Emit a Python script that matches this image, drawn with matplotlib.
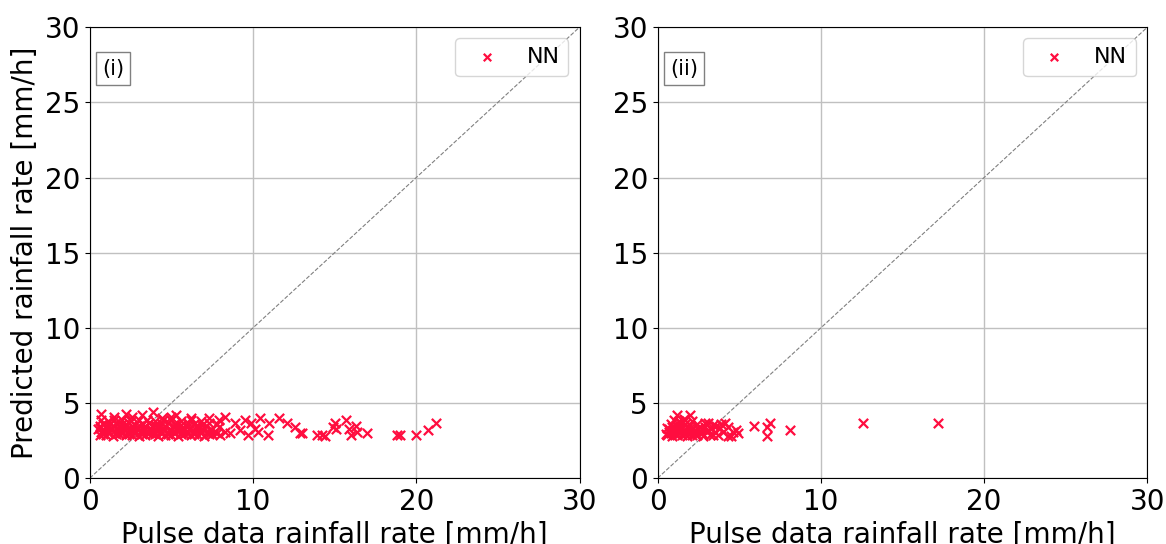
import matplotlib
matplotlib.use("Agg")
import matplotlib.pyplot as plt

# Panel (i): pulse data rate vs predicted rate
x1 = [0.6, 1.0, 1.4, 1.8, 2.2, 2.6, 3.0, 3.4, 3.8, 4.2, 4.6, 5.0, 5.4, 5.8, 6.2, 6.6, 7.0, 7.5, 8.0,
      0.8, 1.2, 1.6, 2.0, 2.4, 2.8, 3.2, 3.6, 4.0, 4.4, 4.8, 5.2, 5.6, 6.0, 6.4, 6.8, 7.3, 7.8,
      0.7, 1.1, 1.5, 1.9, 2.3, 2.7, 3.1, 3.5, 3.9, 4.3, 4.7, 5.1, 5.5, 5.9, 6.3, 6.8, 7.2, 7.7, 8.3,
      0.5, 0.9, 1.3, 1.7, 2.1, 2.5, 2.9, 3.3, 3.7, 4.1, 4.5, 4.9, 5.3, 5.7, 6.1, 6.5, 6.9, 7.4,
      0.6, 1.0, 1.3, 1.7, 2.1, 2.5, 2.9, 3.3, 3.7, 4.1, 4.5, 4.9, 5.3, 5.7, 6.1, 6.5, 7.0, 7.4, 7.9,
      0.8, 1.2, 1.6, 2.0, 2.4, 2.8, 3.2, 3.6, 4.0, 4.4, 4.8, 5.2, 5.6, 6.0, 6.4, 6.9, 7.3, 7.8,
      0.6, 1.0, 1.4, 1.8, 2.2, 2.6, 3.0, 3.4, 3.8, 4.2, 4.6, 5.1, 5.5, 6.0, 6.6, 7.1,
      0.7, 1.1, 1.5, 2.0, 2.5, 3.0, 3.5, 4.0, 4.5, 5.0, 5.6, 6.2, 6.8,
      0.7, 1.5, 2.2, 2.6, 3.2, 3.9, 4.4, 5.0, 5.3, 6.2, 7.3, 7.9,
      8.3, 8.9, 9.5, 9.9, 10.4, 11.0, 11.6, 12.1, 12.6, 12.9, 8.6, 9.7, 10.3, 10.9, 10.1, 9.2,
      13.0, 13.9, 14.2, 14.4, 15.0, 15.1, 15.7, 15.9, 16.0, 16.3, 16.4, 17.0, 18.8, 19.0, 20.0,
      20.7, 21.2, 14.9]
y1 = [2.85, 2.90, 2.80, 2.95, 2.85, 2.90, 2.80, 2.85, 2.95, 2.80, 2.90, 2.85, 2.80, 2.95, 2.85, 2.90, 2.80, 2.95, 2.85,
      2.95, 3.00, 2.95, 3.00, 2.95, 3.00, 2.95, 3.00, 2.95, 3.00, 2.95, 3.00, 2.95, 3.00, 2.95, 3.00, 2.95, 3.00,
      3.10, 3.05, 3.15, 3.10, 3.00, 3.20, 3.10, 3.05, 3.15, 3.10, 3.00, 3.10, 3.20, 3.05, 3.10, 3.15, 3.00, 3.10, 3.05,
      3.25, 3.20, 3.25, 3.20, 3.25, 3.20, 3.25, 3.20, 3.25, 3.20, 3.25, 3.20, 3.25, 3.20, 3.25, 3.20, 3.25, 3.20,
      3.35, 3.40, 3.30, 3.35, 3.45, 3.30, 3.40, 3.35, 3.30, 3.40, 3.35, 3.30, 3.45, 3.35, 3.30, 3.40, 3.35, 3.30, 3.40,
      3.60, 3.55, 3.65, 3.60, 3.70, 3.55, 3.60, 3.65, 3.55, 3.60, 3.70, 3.60, 3.55, 3.65, 3.60, 3.55, 3.65, 3.60,
      3.50, 3.45, 3.50, 3.45, 3.50, 3.45, 3.50, 3.45, 3.50, 3.45, 3.50, 3.45, 3.50, 3.45, 3.50, 3.45,
      3.85, 3.80, 3.90, 3.85, 3.80, 3.90, 3.85, 3.80, 3.90, 3.85, 3.80, 3.85, 3.80,
      4.30, 4.10, 4.30, 4.10, 4.20, 4.40, 4.00, 4.10, 4.20, 4.00, 4.00, 3.90,
      4.10, 3.70, 3.90, 3.70, 4.00, 3.70, 4.00, 3.70, 3.40, 3.00, 3.00, 2.90, 3.10, 2.90, 3.30, 3.20,
      3.00, 2.90, 2.90, 2.80, 3.70, 3.30, 3.90, 3.30, 2.90, 3.50, 3.10, 3.00, 2.90, 2.90, 2.90,
      3.20, 3.70, 3.40]

# Panel (ii)
x2 = [0.6, 0.9, 1.2, 1.5, 1.8, 2.1, 2.4, 2.8, 3.2, 3.7, 4.3,
      0.7, 1.0, 1.3, 1.6, 1.9, 2.2, 2.6, 3.0, 3.5, 4.0, 4.6,
      0.6, 0.9, 1.2, 1.5, 1.8, 2.1, 2.5, 2.9, 3.3, 3.8, 4.3,
      0.8, 1.1, 1.4, 1.7, 2.0, 2.4, 2.9, 3.4, 3.9,
      0.5, 0.8, 1.1, 1.4, 1.7, 2.0, 2.3, 2.7,
      0.7, 1.0, 1.3, 1.6, 1.9, 2.3, 2.7, 3.1,
      1.0, 1.3, 1.7, 2.1, 1.6,
      1.2, 2.0, 4.8, 4.9, 4.5, 3.4, 3.6, 4.1, 3.1,
      5.9, 6.9, 6.7, 6.7, 8.1, 12.6, 17.2]
y2 = [2.85, 2.80, 2.90, 2.85, 2.80, 2.90, 2.85, 2.80, 2.90, 2.85, 2.80,
      3.10, 3.05, 3.15, 3.10, 3.00, 3.10, 3.05, 3.15, 3.10, 3.05, 3.10,
      3.35, 3.40, 3.30, 3.35, 3.40, 3.30, 3.35, 3.40, 3.30, 3.35, 3.40,
      3.60, 3.55, 3.65, 3.60, 3.55, 3.60, 3.65, 3.55, 3.60,
      2.95, 3.00, 2.95, 3.00, 2.95, 3.00, 2.95, 3.00,
      3.25, 3.20, 3.25, 3.20, 3.25, 3.20, 3.25, 3.20,
      3.85, 3.80, 3.90, 3.80, 3.95,
      4.20, 4.20, 3.20, 3.00, 2.80, 2.90, 3.50, 3.70, 3.70,
      3.50, 3.70, 2.80, 3.40, 3.20, 3.70, 3.70]

panels = [(x1, y1, "(i)"), (x2, y2, "(ii)")]
positions = [[0.077, 0.121, 0.420, 0.829], [0.564, 0.121, 0.420, 0.829]]
color = "#ff0d3f"

fig = plt.figure(figsize=(11.66, 5.44), dpi=100)

for i, (xs, ys, tag) in enumerate(panels):
    ax = fig.add_axes(positions[i])
    ax.plot([0, 30], [0, 30], "--", color="gray", lw=0.8, zorder=1)
    ax.scatter(xs, ys, marker="x", color=color, s=45, linewidths=1.6, label="NN", zorder=3)
    ax.set_xlim(0, 30)
    ax.set_ylim(0, 30)
    ax.set_xticks([0, 10, 20, 30])
    ax.set_yticks([0, 5, 10, 15, 20, 25, 30])
    ax.tick_params(labelsize=20)
    ax.grid(True, color="#c0c0c0", lw=1.0)
    ax.set_axisbelow(True)
    ax.set_xlabel("Pulse data rainfall rate [mm/h]", fontsize=20)
    if i == 0:
        ax.set_ylabel("Predicted rainfall rate [mm/h]", fontsize=20)
    ax.legend(loc="upper right", fontsize=16, markerscale=0.8)
    ax.text(0.025, 0.895, tag, transform=ax.transAxes, fontsize=15,
            bbox=dict(facecolor="white", edgecolor="gray", boxstyle="square,pad=0.3"))

fig.savefig("out.png", dpi=100)
